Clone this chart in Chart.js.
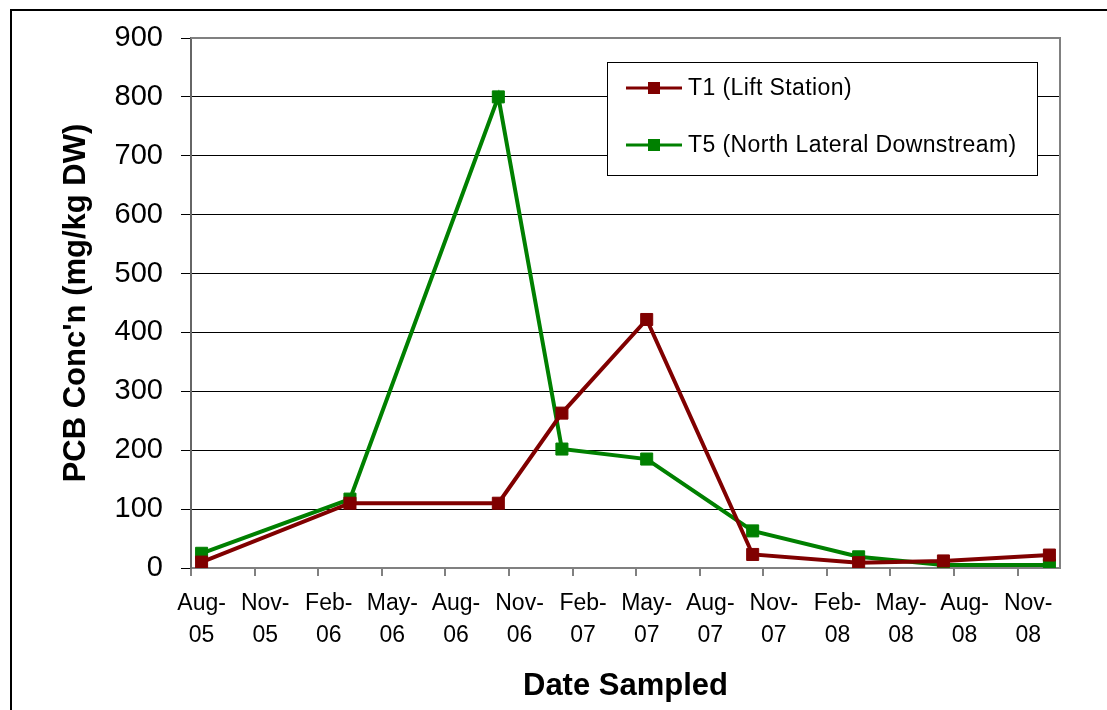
<!DOCTYPE html>
<html>
<head>
<meta charset="utf-8">
<script src="https://cdn.jsdelivr.net/npm/chart.js@4.4.1/dist/chart.umd.min.js"></script>
<style>
  html, body { margin: 0; padding: 0; background: #fff; overflow: hidden; }
  #wrap { position: relative; width: 1107px; height: 710px; }
  #frame { position: absolute; left: 10px; top: 9px; width: 1200px; height: 800px; border: 2px solid #000; }
  canvas { position: absolute; left: 0; top: 0; }
</style>
</head>
<body>
<div id="wrap">
  <div id="frame"></div>
  <canvas id="pcbChart" width="1107" height="710"></canvas>
</div>
<script>
// Sample dates (month-year) and PCB results
const sampleDates = ["Aug-05", "Mar-06", "Oct-06", "Jan-07", "May-07", "Oct-07", "Mar-08", "Jul-08", "Dec-08"];
const t1Values = [10, 110, 110, 263, 422, 23, 9, 12, 22];
const t5Values = [25, 117, 800, 202, 185, 63, 19, 5, 5];

// Axis tick labels, every 3 months
const tickLabels = [
  ["Aug-", "05"], ["Nov-", "05"], ["Feb-", "06"], ["May-", "06"],
  ["Aug-", "06"], ["Nov-", "06"], ["Feb-", "07"], ["May-", "07"],
  ["Aug-", "07"], ["Nov-", "07"], ["Feb-", "08"], ["May-", "08"],
  ["Aug-", "08"], ["Nov-", "08"]
];

const seriesNames = ["T1 (Lift Station)", "T5 (North Lateral Downstream)"];
const seriesColors = ["#800000", "#008000"];

const monthNames = ["Jan", "Feb", "Mar", "Apr", "May", "Jun", "Jul", "Aug", "Sep", "Oct", "Nov", "Dec"];

// months counted from Aug-05 (slot centre = whole number)
function monthIndex(label) {
  const [mon, yr] = label.split("-");
  return (2000 + Number(yr) - 2005) * 12 + monthNames.indexOf(mon) - 7;
}

const FONT = "'Liberation Sans', Arial, sans-serif";

function toPoints(values) {
  return values.map((v, i) => ({ x: monthIndex(sampleDates[i]), y: v }));
}

// gray border on top and right of the plot area
const plotBorder = {
  id: "plotBorder",
  beforeDatasetsDraw(chart) {
    const { ctx, chartArea } = chart;
    ctx.save();
    ctx.strokeStyle = "#808080";
    ctx.lineWidth = 2;
    ctx.beginPath();
    ctx.moveTo(chartArea.left, chartArea.top);
    ctx.lineTo(chartArea.right, chartArea.top);
    ctx.lineTo(chartArea.right, chartArea.bottom);
    ctx.stroke();
    ctx.restore();
  }
};

// boxed legend inside the plot area
const boxLegend = {
  id: "boxLegend",
  afterDatasetsDraw(chart) {
    const { ctx, chartArea } = chart;
    const x = chartArea.left + 416;
    const y = chartArea.top + 24;
    const w = 430;
    const h = 113;
    ctx.save();
    ctx.fillStyle = "#fff";
    ctx.fillRect(x, y, w, h);
    ctx.strokeStyle = "#000";
    ctx.lineWidth = 1;
    ctx.strokeRect(x + 0.5, y + 0.5, w, h);
    chart.data.datasets.forEach((ds, i) => {
      const cy = y + 26 + i * 57;
      ctx.strokeStyle = ds.borderColor;
      ctx.lineWidth = 3;
      ctx.beginPath();
      ctx.moveTo(x + 19, cy);
      ctx.lineTo(x + 75, cy);
      ctx.stroke();
      ctx.fillStyle = ds.borderColor;
      ctx.fillRect(x + 41, cy - 6, 12, 12);
      ctx.fillStyle = "#000";
      ctx.font = "23px " + FONT;
      ctx.letterSpacing = "0.4px";
      ctx.textBaseline = "middle";
      ctx.fillText(ds.label, x + 81, cy + 1);
    });
    ctx.restore();
  }
};

const ctx = document.getElementById("pcbChart").getContext("2d");

new Chart(ctx, {
  type: "line",
  data: {
    datasets: [
      {
        label: seriesNames[0],
        data: toPoints(t1Values),
        borderColor: seriesColors[0],
        backgroundColor: seriesColors[0],
        borderWidth: 4,
        pointStyle: "rect",
        pointRadius: 8.5,
        pointBorderWidth: 1,
        tension: 0,
      },
      {
        label: seriesNames[1],
        data: toPoints(t5Values),
        borderColor: seriesColors[1],
        backgroundColor: seriesColors[1],
        borderWidth: 4,
        pointStyle: "rect",
        pointRadius: 8.5,
        pointBorderWidth: 1,
        tension: 0,
      },
    ],
  },
  options: {
    responsive: false,
    animation: false,
    layout: { padding: { left: 56, top: 38, right: 47, bottom: 0 } },
    plugins: {
      legend: { display: false },
      tooltip: { enabled: false },
    },
    scales: {
      x: {
        type: "linear",
        min: -0.5,
        max: 40.5,
        afterBuildTicks: (scale) => {
          scale.ticks = tickLabels.map((_, i) => ({ value: i * 3 - 0.5 }));
        },
        afterFit: (scale) => {
          scale.height = 142;
        },
        ticks: {
          autoSkip: false,
          maxRotation: 0,
          labelOffset: 10.6,
          padding: 12,
          color: "#000",
          font: { family: FONT, size: 23, lineHeight: 1.38 },
          callback: (value, index) => tickLabels[index],
        },
        grid: {
          drawOnChartArea: false,
          tickLength: 8,
          color: "#808080",
          lineWidth: 2,
        },
        border: { display: true, color: "#808080", width: 2 },
        title: {
          display: true,
          text: "Date Sampled",
          color: "#000",
          font: { family: FONT, size: 31, weight: "bold" },
          padding: { top: 0, bottom: 5 },
        },
      },
      y: {
        min: 0,
        max: 900,
        afterFit: (scale) => {
          scale.width = 135;
        },
        ticks: {
          stepSize: 100,
          padding: 18,
          color: "#000",
          font: { family: FONT, size: 29 },
        },
        grid: {
          color: "#000",
          lineWidth: 1,
          tickLength: 10,
        },
        border: { display: true, color: "#666", width: 2 },
        title: {
          display: true,
          text: "PCB Conc'n (mg/kg DW)",
          color: "#000",
          font: { family: FONT, size: 31, weight: "bold" },
          padding: { top: 2, bottom: 0 },
        },
      },
    },
  },
  plugins: [plotBorder, boxLegend],
});
</script>
</body>
</html>
